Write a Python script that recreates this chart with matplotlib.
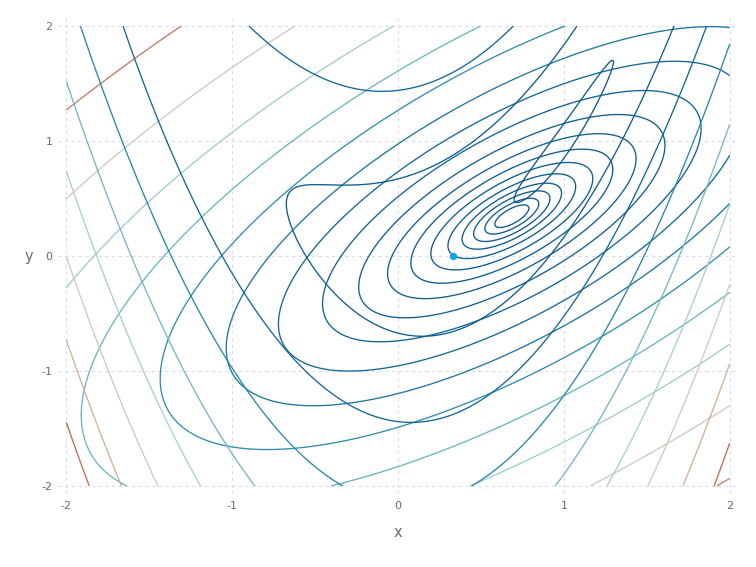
import numpy as np
import matplotlib
matplotlib.use('Agg')
import matplotlib.pyplot as plt
from matplotlib.colors import LinearSegmentedColormap

plt.rcParams['axes.unicode_minus'] = False

# Rosenbrock f(x, y) = (a - x)^2 + b (y - x^2)^2 and the point where the model is built
rosen_a = 1.0
rosen_b = 4.0
x_start = [1 / 3, 0.0]

# contour levels of f
f_levels = [0.09, 2.8, 9.3, 19.6, 33.6, 51.5, 73.1, 98.5, 127.7]
# contour levels of the quadratic model, measured above its minimum
model_levels = [0.02, 0.05, 0.1, 0.17, 0.28, 0.45, 0.70, 1.06, 1.61, 2.46,
                3.74, 5.6, 8.49, 12.73, 19.1, 28.75, 43.1]

# colour scale (position, colour)
cmap_stops = [(0.0, '#0e5a8e'), (0.06, '#136898'), (0.13, '#2a8aab'),
              (0.21, '#6db7c0'), (0.33, '#a9cfca'), (0.48, '#cecbbd'),
              (0.64, '#d0b59c'), (0.70, '#c27d66'), (0.85, '#bb6a55'),
              (1.0, '#a84a3a')]
cmap = LinearSegmentedColormap.from_list('lines', cmap_stops)

xs = np.linspace(-2, 2, 401)
ys = np.linspace(-2, 2, 401)
X, Y = np.meshgrid(xs, ys)

a, b = rosen_a, rosen_b
x0, y0 = x_start
F = (a - X) ** 2 + b * (Y - X ** 2) ** 2

# second order Taylor model at x_start
r0 = y0 - x0 ** 2
f0 = (a - x0) ** 2 + b * r0 ** 2
g = np.array([-2 * (a - x0) - 4 * b * x0 * r0, 2 * b * r0])
H = np.array([[2 - 4 * b * r0 + 8 * b * x0 ** 2, -4 * b * x0],
              [-4 * b * x0, 2 * b]])
dX, dY = X - x0, Y - y0
M = f0 + g[0] * dX + g[1] * dY + 0.5 * (H[0, 0] * dX ** 2 + 2 * H[0, 1] * dX * dY + H[1, 1] * dY ** 2)
m_min = f0 - 0.5 * g @ np.linalg.solve(H, g)

fig = plt.figure(figsize=(7.56, 5.67), dpi=100)
ax = fig.add_axes([58 / 756, 1 - 494 / 567, 680 / 756, 476 / 567])

ax.contour(X, Y, M, levels=[m_min + l for l in model_levels],
           colors=[cmap(l / (M.max() - m_min)) for l in model_levels], linewidths=0.95)
ax.contour(X, Y, F, levels=f_levels,
           colors=[cmap(l / F.max()) for l in f_levels], linewidths=0.95)
ax.plot([x0], [y0], 'o', color='#0aa5e6', ms=4.3, zorder=5)

ax.set_xlim(-2.05, 2.05)
ax.set_ylim(-2.07, 2.07)
ax.set_xticks([-2, -1, 0, 1, 2])
ax.set_yticks([-2, -1, 0, 1, 2])
ax.grid(True, color='#dcdce8', lw=0.8, ls=(0, (3, 3)))
ax.set_axisbelow(True)
for s in ax.spines.values():
    s.set_visible(False)
ax.tick_params(length=0, labelsize=8, labelcolor='#6a6a72', pad=5)
ax.tick_params(axis='y', pad=4)
ax.set_xlabel('x', fontsize=10.5, color='#6a6a72')
ax.set_ylabel('y', fontsize=10.5, color='#6a6a72', rotation=0)
ax.xaxis.set_label_coords(0.5, -0.08)
ax.xaxis.label.set_va('center')
ax.yaxis.set_label_coords(-0.0426, 0.5)
ax.yaxis.label.set_va('center')

plt.savefig('out.png', dpi=100)
